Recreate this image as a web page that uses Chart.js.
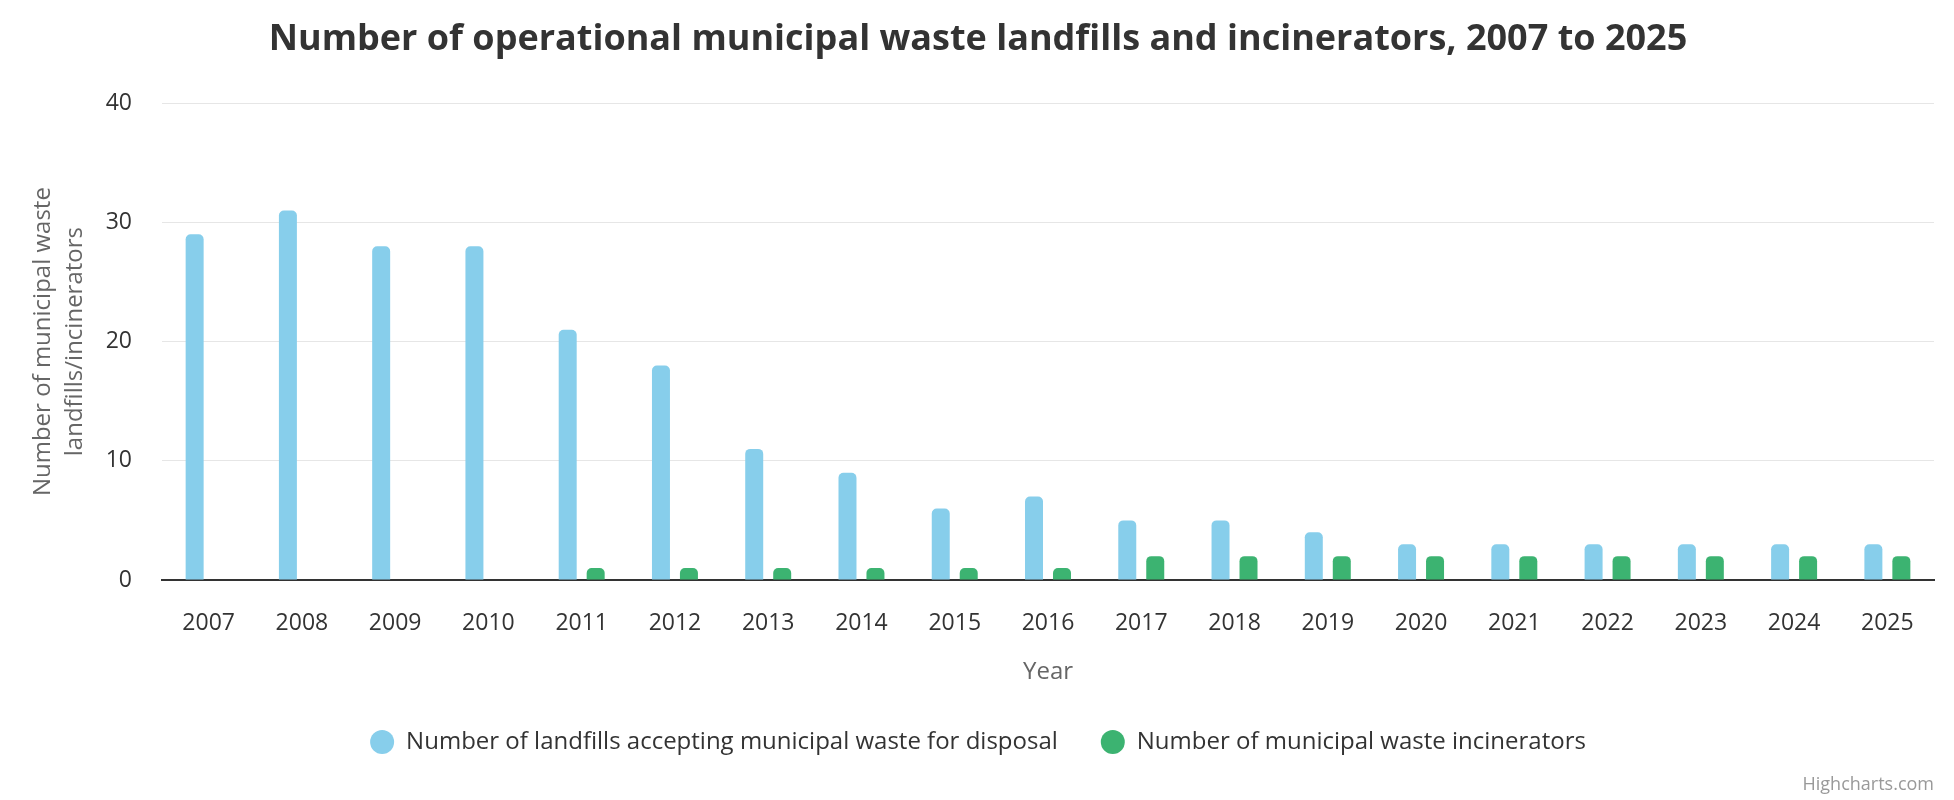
<!DOCTYPE html>
<html>
<head>
<meta charset="utf-8">
<script src="https://cdn.jsdelivr.net/npm/chart.js@4"></script>
<style>
  html, body { margin: 0; padding: 0; background: #fff; }
  #wrap { width: 1954px; height: 800px; position: relative; }
</style>
</head>
<body>
<div id="wrap"><canvas id="chart"></canvas></div>
<script>
// data
const years = ['2007', '2008', '2009', '2010', '2011', '2012', '2013', '2014', '2015', '2016',
               '2017', '2018', '2019', '2020', '2021', '2022', '2023', '2024', '2025'];
const landfills = [29, 31, 28, 28, 21, 18, 11, 9, 6, 7, 5, 5, 4, 3, 3, 3, 3, 3, 3];
const incinerators = [0, 0, 0, 0, 1, 1, 1, 1, 1, 1, 2, 2, 2, 2, 2, 2, 2, 2, 2];
const seriesNames = ['Number of landfills accepting municipal waste for disposal',
                     'Number of municipal waste incinerators'];
const yTickValues = [0, 10, 20, 30, 40];

const FONT = "'Open Sans', 'Noto Sans', sans-serif";

const credits = {
    id: 'credits',
    afterDraw(chart) {
        const ctx = chart.ctx;
        ctx.save();
        ctx.font = `18px ${FONT}`;
        ctx.fillStyle = '#999999';
        ctx.textAlign = 'right';
        ctx.textBaseline = 'alphabetic';
        ctx.fillText('Highcharts.com', chart.width - 20, chart.height - 10);
        ctx.restore();
    }
};

const ctx = document.getElementById('chart').getContext('2d');
new Chart(ctx, {
    type: 'bar',
    data: {
        labels: years,
        datasets: [
            {
                label: seriesNames[0],
                data: landfills,
                backgroundColor: '#87CEEB',
                borderRadius: { topLeft: 5, topRight: 5 },
                borderSkipped: 'bottom'
            },
            {
                label: seriesNames[1],
                data: incinerators,
                backgroundColor: '#3CB371',
                borderRadius: { topLeft: 5, topRight: 5 },
                borderSkipped: 'bottom'
            }
        ]
    },
    options: {
        responsive: true,
        maintainAspectRatio: false,
        animation: false,
        devicePixelRatio: 1,
        categoryPercentage: 0.6,
        barPercentage: 0.643,
        layout: { padding: { left: 22, right: 20, top: 0, bottom: 36 } },
        scales: {
            x: {
                afterFit: (scale) => { scale.height = 107; },
                grid: { display: false },
                border: { color: '#333333', width: 2 },
                ticks: { color: '#333333', font: { family: FONT, size: 23 }, padding: 22, maxRotation: 0 },
                title: {
                    display: true,
                    text: 'Year',
                    color: '#666666',
                    font: { family: FONT, size: 24 },
                    padding: { top: 0, bottom: 0 }
                }
            },
            y: {
                min: 0,
                max: 40,
                afterBuildTicks: (scale) => { scale.ticks = yTickValues.map(v => ({ value: v })); },
                afterFit: (scale) => { scale.width = 140; },
                grid: { color: '#e6e6e6', lineWidth: 1, drawTicks: false },
                border: { display: false },
                ticks: { color: '#333333', font: { family: FONT, size: 23 }, padding: 30 },
                title: {
                    display: true,
                    text: ['Number of municipal waste', 'landfills/incinerators'],
                    color: '#666666',
                    font: { family: FONT, size: 24, lineHeight: 1.35 },
                    padding: { top: 5, bottom: 0 }
                }
            }
        },
        plugins: {
            title: {
                display: true,
                text: 'Number of operational municipal waste landfills and incinerators, 2007 to 2025',
                color: '#333333',
                font: { family: FONT, size: 36, weight: 'bold' },
                padding: { top: 18, bottom: 42 }
            },
            legend: {
                position: 'bottom',
                labels: {
                    usePointStyle: true,
                    pointStyle: 'circle',
                    boxHeight: 17,
                    pointStyleWidth: 24,
                    color: '#333333',
                    font: { family: FONT, size: 24 },
                    padding: 43
                }
            },
            tooltip: { enabled: false }
        }
    },
    plugins: [credits]
});
</script>
</body>
</html>
